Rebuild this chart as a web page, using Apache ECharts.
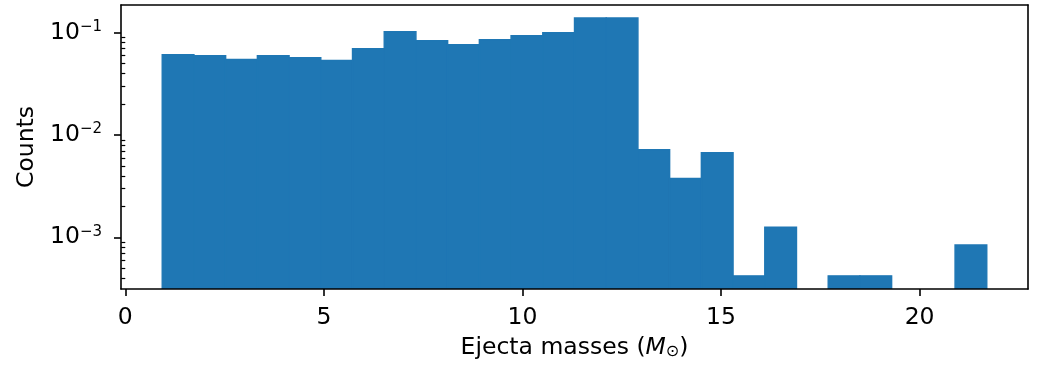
<!DOCTYPE html>
<html>
<head>
<meta charset="utf-8">
<script src="https://cdn.jsdelivr.net/npm/echarts@6/dist/echarts.min.js"></script>
<style>
  html, body { margin: 0; padding: 0; background: #fff; }
  #chart { width: 1038px; height: 365px; }
</style>
</head>
<body>
<div id="chart"></div>
<script>
// Normalised histogram of ejecta masses, log-scaled counts axis
const binStart = 0.93;
const binWidth = 0.7985;
const densities = [
  0.0612, 0.0598, 0.0547, 0.0598, 0.0572, 0.0535, 0.0700, 0.1023,
  0.0837, 0.0765, 0.0855, 0.0935, 0.1000, 0.1398, 0.1398, 0.00718,
  0.00376, 0.00671, 0.000421, 0.00126, 0, 0.000421, 0.000421, 0,
  0, 0.000842
];
const xTicks = [0, 5, 10, 15, 20];
const yTicks = [1e-3, 1e-2, 1e-1];
const yMinorTicks = [
  4e-4, 5e-4, 6e-4, 7e-4, 8e-4, 9e-4,
  2e-3, 3e-3, 4e-3, 5e-3, 6e-3, 7e-3, 8e-3, 9e-3,
  2e-2, 3e-2, 4e-2, 5e-2, 6e-2, 7e-2, 8e-2, 9e-2
];

const FONT = 'DejaVu Sans';
const FS = 23.5;
const INK = '#000';
const BAR = '#1f77b4';
const SPINE = 1.6;

const binEnd = binStart + densities.length * binWidth;
const pad = 0.05 * (binEnd - binStart);
const xMin = binStart - pad;
const xMax = binEnd + pad;
const yMin = 3.13e-4;
const yMax = 0.1868;

const bins = [];
densities.forEach((v, i) => {
  if (v > 0) bins.push([binStart + i * binWidth, binStart + (i + 1) * binWidth, v]);
});

function powerLabel(v) {
  const n = Math.round(Math.log10(v));
  const exp = n < 0 ? '\u2212' + (-n) : String(n);
  return '{b|10}{s|' + exp + '}';
}

const chart = echarts.init(document.getElementById('chart'), null, { renderer: 'canvas' });

const lineStyle = { color: INK, width: SPINE };

chart.setOption({
  animation: false,
  backgroundColor: '#fff',
  grid: { left: 121, top: 5, width: 907, height: 286.3, containLabel: false },
  xAxis: [
    {
      type: 'value', min: xMin, max: xMax, position: 'bottom', z: 10,
      splitLine: { show: false },
      axisLine: { show: true, onZero: false, lineStyle },
      axisTick: { show: true, customValues: xTicks, length: 7, lineStyle },
      axisLabel: { customValues: xTicks, fontSize: FS, color: INK, fontFamily: FONT, margin: 17 },
      name: 'Ejecta masses ({i|M}{sub|\u2299})',
      nameLocation: 'middle',
      nameGap: 47,
      nameTextStyle: {
        fontSize: FS, color: INK, fontFamily: FONT,
        rich: {
          i: { fontSize: FS, fontStyle: 'italic', fontFamily: FONT, color: INK },
          sub: { fontSize: 16, fontFamily: FONT, color: INK, verticalAlign: 'bottom', padding: [8, 0, 0, 0] }
        }
      }
    },
    {
      type: 'value', min: xMin, max: xMax, position: 'top', z: 10,
      splitLine: { show: false },
      axisLine: { show: true, onZero: false, lineStyle },
      axisTick: { show: false },
      axisLabel: { show: false }
    }
  ],
  yAxis: [
    {
      type: 'log', logBase: 10, min: yMin, max: yMax, position: 'left', z: 10,
      splitLine: { show: false },
      axisLine: { show: true, onZero: false, lineStyle },
      axisTick: { show: true, customValues: yTicks, length: 7, lineStyle },
      axisLabel: {
        customValues: yTicks,
        formatter: powerLabel,
        margin: 19,
        color: INK,
        rich: {
          b: { fontSize: FS, fontFamily: FONT, color: INK, lineHeight: 26 },
          s: { fontSize: 15, fontFamily: FONT, color: INK, lineHeight: 17, verticalAlign: 'top' }
        }
      },
      name: 'Counts',
      nameLocation: 'middle',
      nameGap: 82,
      nameTextStyle: { fontSize: FS, color: INK, fontFamily: FONT }
    },
    {
      type: 'log', logBase: 10, min: yMin, max: yMax, position: 'left', z: 10,
      splitLine: { show: false },
      axisLine: { show: false },
      axisTick: { show: true, customValues: yMinorTicks, length: 4, lineStyle: { color: INK, width: 1.2 } },
      axisLabel: { show: false }
    },
    {
      type: 'log', logBase: 10, min: yMin, max: yMax, position: 'right', z: 10,
      splitLine: { show: false },
      axisLine: { show: true, onZero: false, lineStyle },
      axisTick: { show: false },
      axisLabel: { show: false }
    }
  ],
  series: [
    {
      type: 'custom',
      xAxisIndex: 0,
      yAxisIndex: 0,
      clip: true,
      encode: { x: [0, 1], y: 2 },
      data: bins,
      renderItem: function (params, api) {
        const top = api.coord([api.value(0), api.value(2)]);
        const bottom = api.coord([api.value(1), yMin]);
        return {
          type: 'rect',
          shape: { x: top[0], y: top[1], width: bottom[0] - top[0], height: bottom[1] - top[1] },
          style: { fill: BAR, stroke: BAR, lineWidth: 1.4 }
        };
      }
    }
  ]
});
</script>
</body>
</html>
